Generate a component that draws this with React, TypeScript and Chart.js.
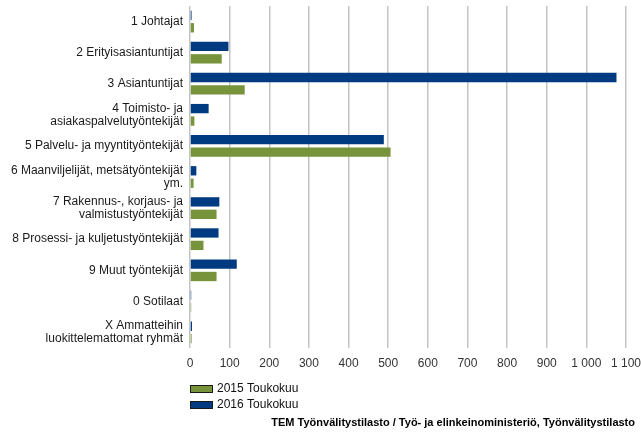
import React, { useEffect, useRef } from "react";
import { Chart, registerables } from "chart.js";

Chart.register(...registerables);

const categories: (string | string[])[] = [
  "1 Johtajat",
  "2 Erityisasiantuntijat",
  "3 Asiantuntijat",
  ["4 Toimisto- ja", "asiakaspalvelutyöntekijät"],
  "5 Palvelu- ja myyntityöntekijät",
  ["6 Maanviljelijät, metsätyöntekijät", "ym."],
  ["7 Rakennus-, korjaus- ja", "valmistustyöntekijät"],
  "8 Prosessi- ja kuljetustyöntekijät",
  "9 Muut työntekijät",
  "0 Sotilaat",
  ["X Ammatteihin", "luokittelemattomat ryhmät"],
];

const series2015Label = "2015 Toukokuu";
const series2016Label = "2016 Toukokuu";
const values2015 = [10, 80, 138, 11, 506, 9, 67, 34, 67, 3, 4];
const values2016 = [4, 97, 1076, 47, 489, 16, 74, 72, 118, 3, 5];

const xTickLabels = ["0", "100", "200", "300", "400", "500", "600", "700", "800", "900", "1 000", "1 100"];
const sourceText = "TEM Työnvälitystilasto / Työ- ja elinkeinoministeriö, Työnvälitystilasto";

const GREEN = "#77933c";
const BLUE = "#003a80";
const FONT = "'Liberation Sans', Arial, sans-serif";

export default function App() {
  const ref = useRef<HTMLCanvasElement | null>(null);

  useEffect(() => {
    if (!ref.current) return;
    const legendPlugin = {
      id: "customLegend",
      afterDraw(chart: any) {
        const ctx = chart.ctx;
        const left = chart.chartArea.left;
        const items = [
          { label: series2015Label, color: GREEN, y: 389 },
          { label: series2016Label, color: BLUE, y: 405 },
        ];
        ctx.save();
        items.forEach((it) => {
          ctx.fillStyle = it.color;
          ctx.fillRect(left, it.y - 4, 23, 8);
          ctx.strokeStyle = "#1a1a1a";
          ctx.lineWidth = 1;
          ctx.strokeRect(left + 0.5, it.y - 4 + 0.5, 22, 7);
          ctx.fillStyle = "#111";
          ctx.font = `12px ${FONT}`;
          ctx.textAlign = "left";
          ctx.textBaseline = "middle";
          ctx.fillText(it.label, left + 27, it.y);
        });
        ctx.font = `bold 11px ${FONT}`;
        ctx.textAlign = "right";
        ctx.textBaseline = "middle";
        ctx.fillStyle = "#000";
        ctx.fillText(sourceText, 635, 423);
        ctx.restore();
      },
    };

    const chart = new Chart(ref.current, {
      type: "bar",
      data: {
        labels: categories,
        datasets: [
          {
            label: series2016Label,
            data: values2016,
            backgroundColor: BLUE,
            categoryPercentage: 0.8,
            barPercentage: 0.75,
          },
          {
            label: series2015Label,
            data: values2015,
            backgroundColor: GREEN,
            categoryPercentage: 0.8,
            barPercentage: 0.75,
          },
        ],
      },
      options: {
        indexAxis: "y",
        animation: false,
        responsive: false,
        maintainAspectRatio: false,
        layout: { padding: { top: 6, right: 15, bottom: 64, left: 0 } },
        plugins: {
          legend: { display: false },
          tooltip: { enabled: false },
        },
        scales: {
          x: {
            min: 0,
            max: 1100,
            ticks: {
              stepSize: 100,
              padding: 8,
              color: "#333",
              font: { family: FONT, size: 12 },
              maxRotation: 0,
              callback: (_v: any, i: number) => xTickLabels[i],
            },
            grid: { color: "#c4c4c4", lineWidth: 1.5, drawTicks: false },
            border: { display: false },
            afterFit: (s: any) => {
              s.height = 20;
              s.paddingLeft = 0;
              s.paddingRight = 0;
            },
          },
          y: {
            ticks: {
              padding: 7,
              color: "#1a1a1a",
              font: { family: FONT, size: 12, lineHeight: 1.1 },
              autoSkip: false,
            },
            grid: { display: false, drawTicks: false },
            border: { display: false },
            afterFit: (s: any) => {
              s.width = 190;
              s.paddingTop = 0;
              s.paddingBottom = 0;
            },
          },
        },
      },
      plugins: [legendPlugin],
    });
    return () => chart.destroy();
  }, []);

  return (
    <div style={{ position: "absolute", left: 0, top: 0, width: 641, height: 432, background: "#fff" }}>
      <canvas ref={ref} width={641} height={432} style={{ width: 641, height: 432 }} />
    </div>
  );
}
